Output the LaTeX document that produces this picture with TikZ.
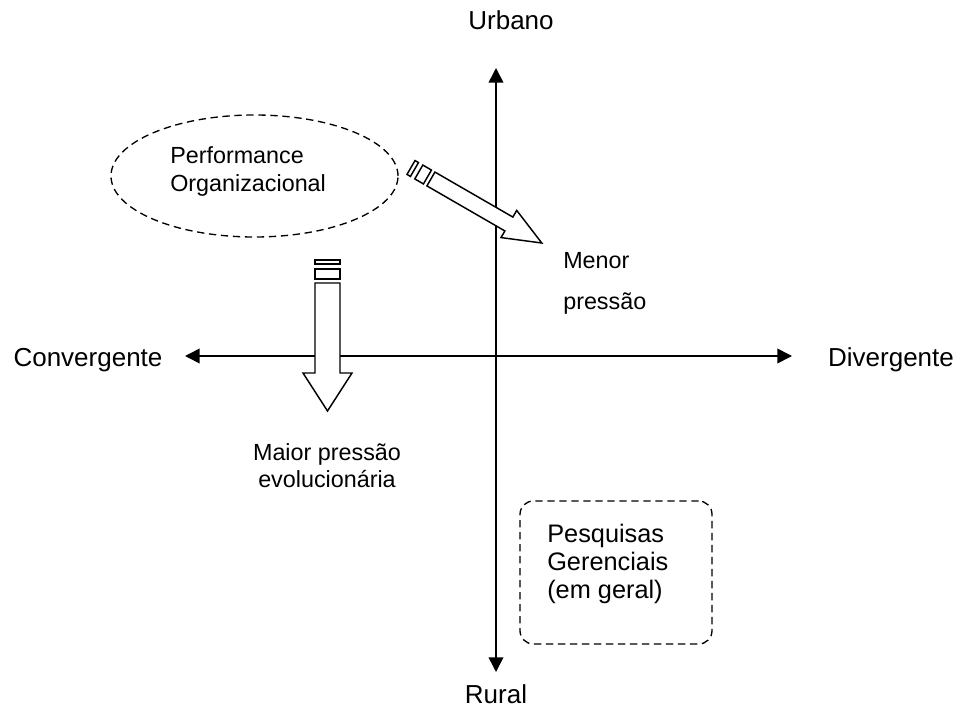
\documentclass[tikz,border=0pt]{standalone}
\usepackage{fontspec}
\setmainfont{Liberation Sans}
\usetikzlibrary{positioning, arrows.meta, shapes.geometric}

\begin{document}
\begin{tikzpicture}[
    x=0.75pt, y=-0.75pt,
    % Clean, minimal styles
    axis/.style={
        <->,
        >={Triangle[length=11pt, width=11pt]},
        line width=1.2pt,
        black
    },
    axislabel/.style={
        font=\fontsize{19.5}{23}\selectfont,
        anchor=base,
        inner sep=0pt
    },
    notelabel/.style={
        font=\fontsize{17.5}{21}\selectfont,
        inner sep=0pt
    },
    dashedshape/.style={
        draw=black,
        line width=1pt,
        dash pattern=on 5.5pt off 3.5pt
    },
    pics/stripedarrow/.style={
        code={
            \draw[line width=1.1pt, fill=white] (0,-12.5) rectangle (4,12.5);
            \draw[line width=1.1pt, fill=white] (9,-12.5) rectangle (19,12.5);
            \draw[line width=1.1pt, fill=white, line join=miter]
                (23,-12.5) -- (113,-12.5) -- (113,-24.5) -- (151,0)
                -- (113,24.5) -- (113,12.5) -- (23,12.5) -- cycle;
        }
    }
]
\useasboundingbox (0,0) rectangle (962,709);

% === Axes ===
\coordinate (top) at (496,68);
\coordinate (bottom) at (496,672);
\coordinate (left) at (185,356);
\coordinate (right) at (792,356);
\draw[axis] (top) -- (bottom);
\draw[axis] (left) -- (right);

\node[axislabel] (urbano) at (511,30) {Urbano};
\node[axislabel] (rural) at (496,703) {Rural};
\node[axislabel] (conv) at (88,366) {Convergente};
\node[axislabel] (div) at (891,366) {Divergente};

% === Performance ellipse ===
\node[dashedshape, ellipse, minimum width=215.25pt, minimum height=91.5pt] (perf) at (254.5,176) {};
\node[notelabel, align=left, anchor=base west, font=\fontsize{17.5}{21}\selectfont] (perftext) at (170,192) {Performance\\Organizacional};

% === Striped arrows ===
\pic[rotate=-30, yscale=0.64] (menorarrow) at (411,167.5) {stripedarrow};
\pic[rotate=-90] (maiorarrow) at (327.5,260) {stripedarrow};

\node[notelabel, align=left, anchor=base west, font=\fontsize{17.5}{30.75}\selectfont] (menor) at (563,309) {Menor\\pressão};
\node[notelabel, align=center, anchor=base, font=\fontsize{17.5}{20.25}\selectfont] (maior) at (327,487) {Maior pressão\\evolucionária};

% === Survey box ===
\node[dashedshape, rectangle, rounded corners=10pt, minimum width=144pt, minimum height=107.25pt] (survey) at (616,572.5) {};
\node[notelabel, align=left, anchor=base west, font=\fontsize{19}{21}\selectfont] (surveytext) at (547,598) {Pesquisas\\Gerenciais\\(em geral)};

\end{tikzpicture}
\end{document}
